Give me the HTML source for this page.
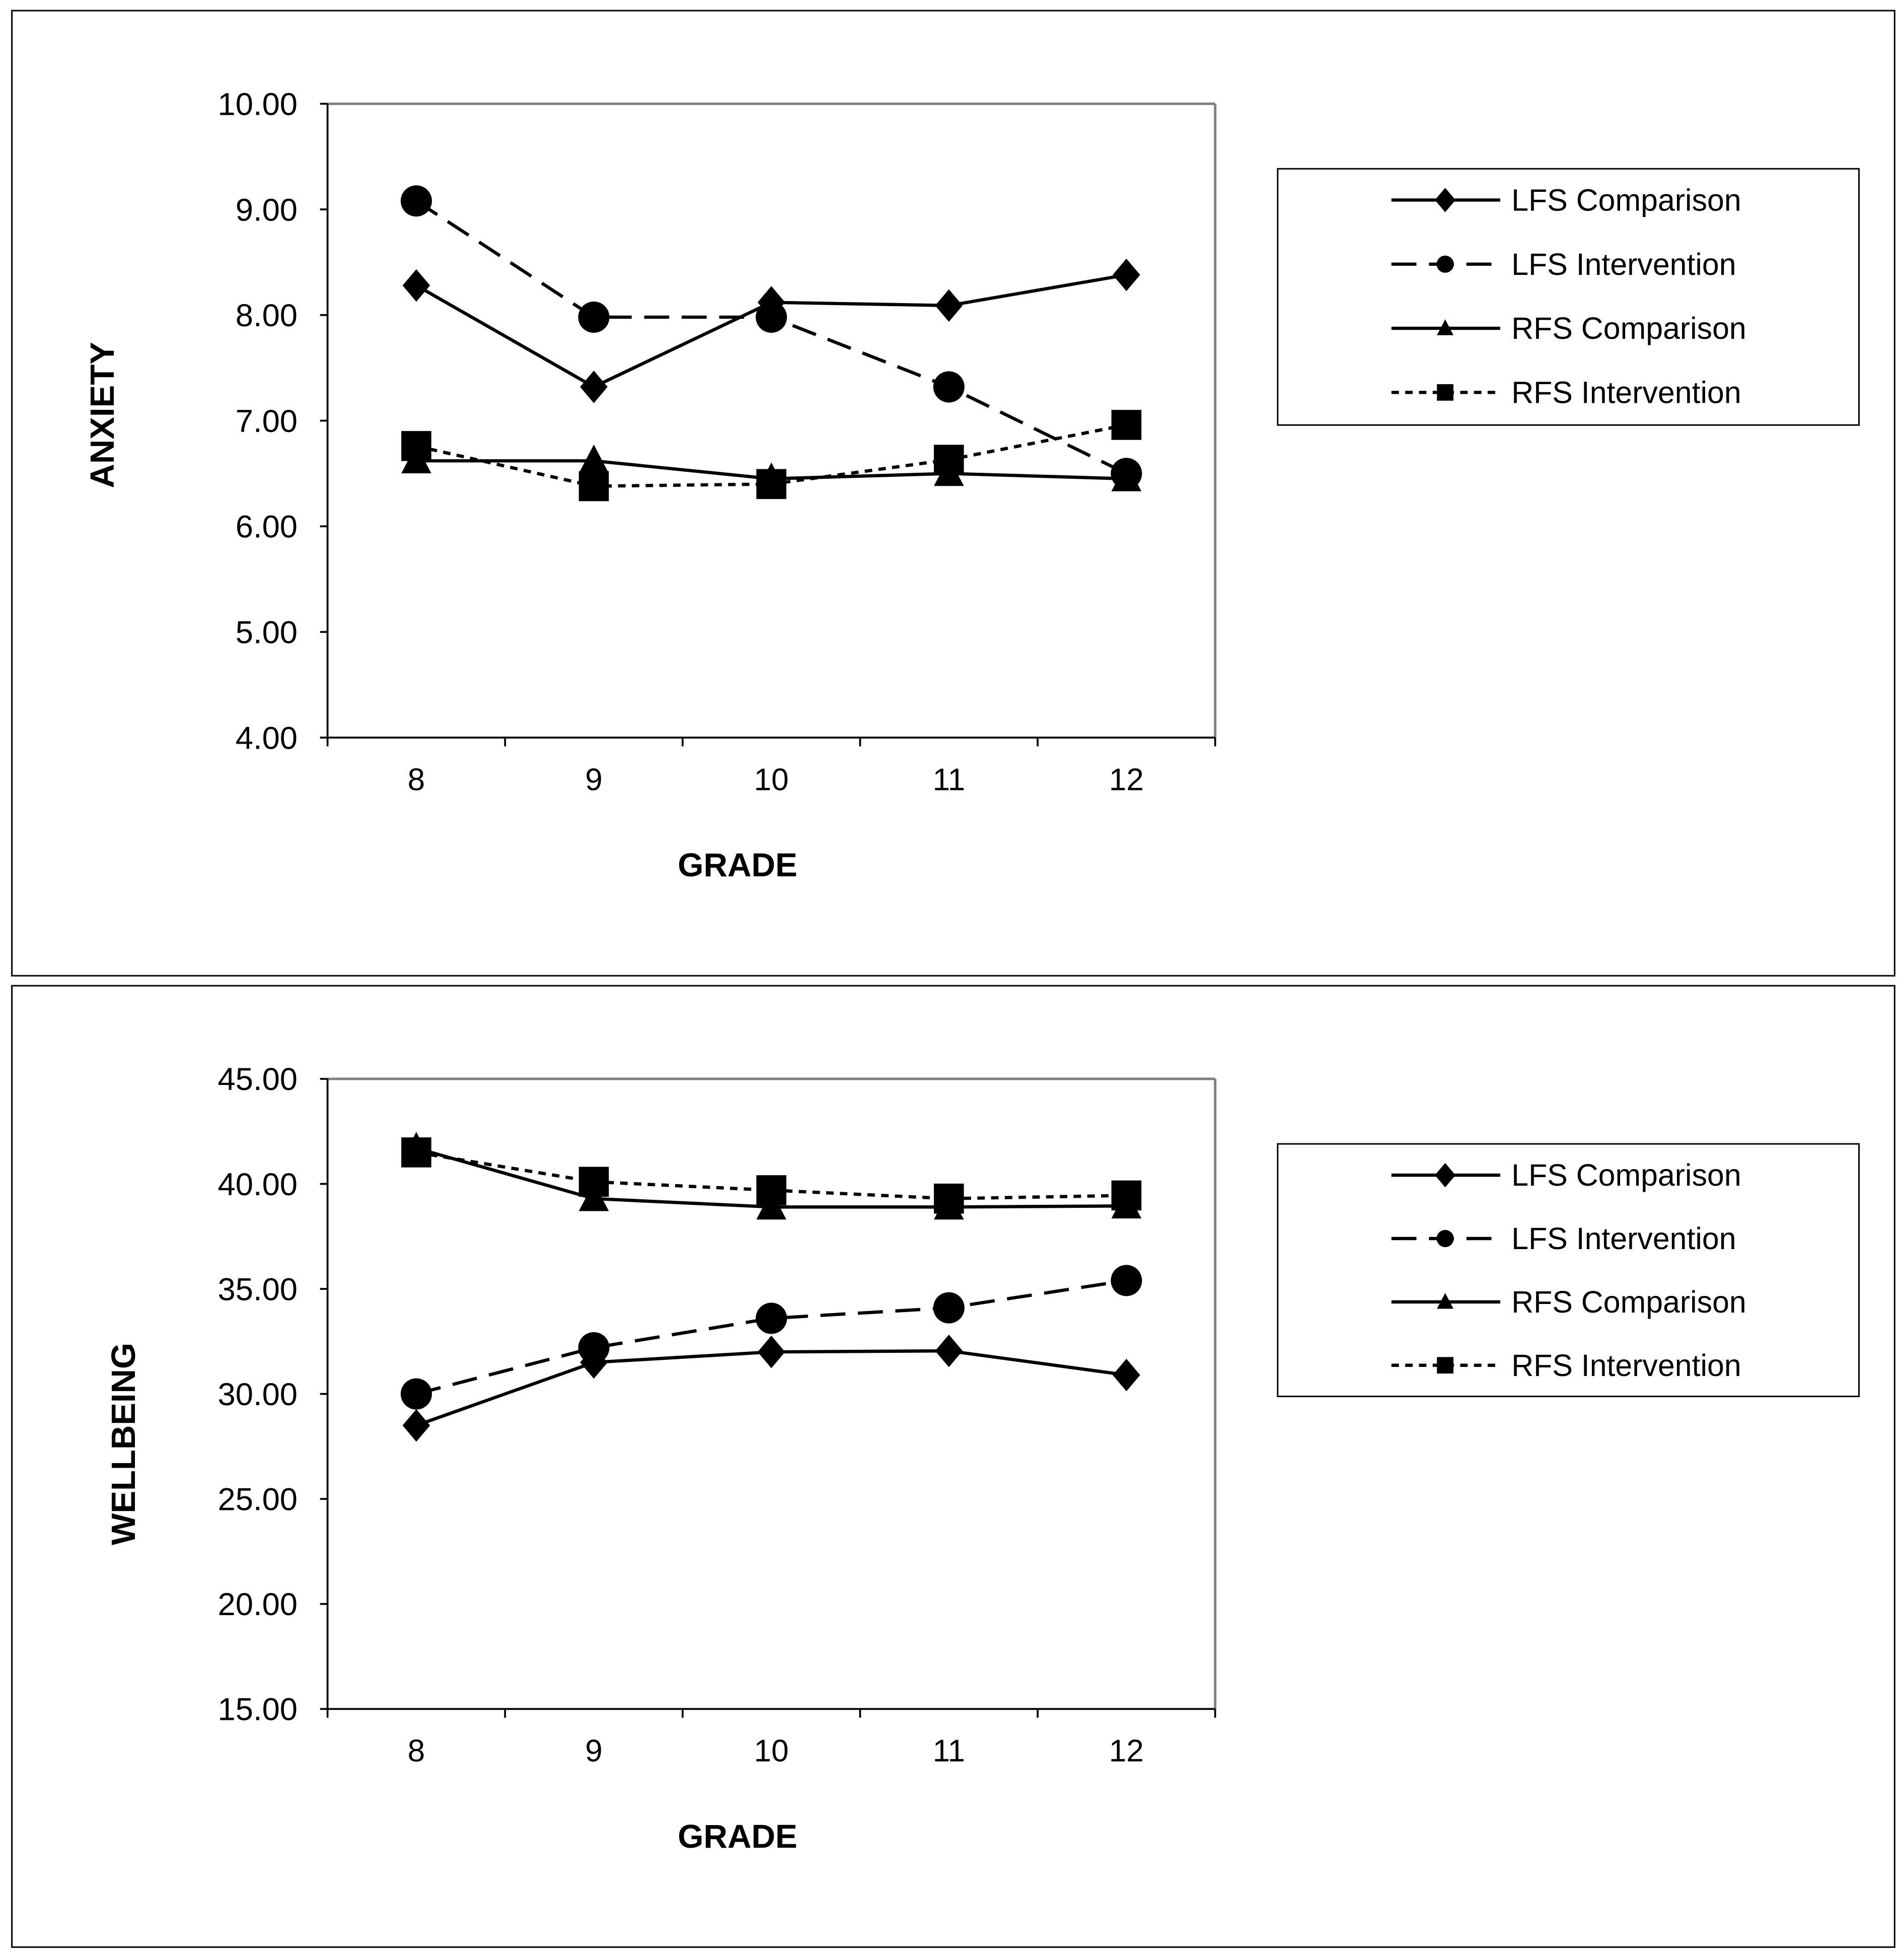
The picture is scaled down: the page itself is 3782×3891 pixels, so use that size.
<!DOCTYPE html>
<html><head><meta charset="utf-8"><style>
html,body{margin:0;padding:0;background:#fff}
svg{display:block}
text{font-family:"Liberation Sans",Arial,sans-serif;fill:#000}
</style></head><body>
<svg id="fig" width="3782" height="3891" viewBox="0 0 1523 1567" preserveAspectRatio="none" xmlns="http://www.w3.org/2000/svg"></svg>
<script>
const grades = ['8','9','10','11','12'];
const seriesNames = ['LFS Comparison','LFS Intervention','RFS Comparison','RFS Intervention'];
const anxLfsComp = [8.28, 7.32, 8.12, 8.09, 8.38];
const anxLfsInt = [9.08, 7.98, 7.98, 7.32, 6.50];
const anxRfsComp = [6.62, 6.62, 6.45, 6.50, 6.45];
const anxRfsInt = [6.76, 6.38, 6.40, 6.63, 6.96];
const anxTicks = ['4.00','5.00','6.00','7.00','8.00','9.00','10.00'];
const wbLfsComp = [28.5, 31.5, 32.0, 32.05, 30.9];
const wbLfsInt = [30.0, 32.2, 33.6, 34.1, 35.4];
const wbRfsComp = [41.7, 39.3, 38.9, 38.9, 38.95];
const wbRfsInt = [41.5, 40.1, 39.7, 39.3, 39.45];
const wbTicks = ['15.00','20.00','25.00','30.00','35.00','40.00','45.00'];

const NS='http://www.w3.org/2000/svg';
const svg=document.getElementById('fig');
function mk(tag,attrs,parent){const e=document.createElementNS(NS,tag);for(const k in attrs)e.setAttribute(k,attrs[k]);(parent||svg).appendChild(e);return e;}
const styles=[{dash:'',marker:'diamond'},{dash:'20,10',marker:'circle'},{dash:'',marker:'triangle'},{dash:'6,5',marker:'square'}];
function drawMarker(g,type,x,y){
  let m;
  if(type==='diamond')m=mk('polygon',{points:`${x},${y-13} ${x+11},${y} ${x},${y+13} ${x-11},${y}`,fill:'#000'},g);
  else if(type==='circle')m=mk('circle',{cx:x,cy:y,r:12.5,fill:'#000'},g);
  else if(type==='triangle')m=mk('polygon',{points:`${x},${y-13} ${x+12},${y+10} ${x-12},${y+10}`,fill:'#000'},g);
  else m=mk('rect',{x:x-12,y:y-12,width:24,height:24,fill:'#000'},g);
  return m;
}
function panel(p){
  const fr=mk('rect',{x:9.5,y:p.fy+0.5,width:1506,height:p.fh,fill:'#fff',stroke:'#000','stroke-width':1.2});
  
  
  const L=262,R=972,T=p.top,B=p.bot;
  const ymin=parseFloat(p.ticks[0]),ymax=parseFloat(p.ticks[p.ticks.length-1]);
  const yS=v=>B-(v-ymin)/(ymax-ymin)*(B-T);
  const xS=i=>L+(R-L)/grades.length*(i+0.5);
  const pl=mk('g',{});
  
  
  mk('line',{x1:L,y1:T,x2:R,y2:T,stroke:'#808080','stroke-width':2},pl);
  mk('line',{x1:R,y1:T,x2:R,y2:B,stroke:'#808080','stroke-width':2},pl);
  mk('line',{x1:L,y1:T,x2:L,y2:B,stroke:'#000','stroke-width':1.5},pl);
  mk('line',{x1:L,y1:B,x2:R,y2:B,stroke:'#000','stroke-width':1.5},pl);
  p.ticks.forEach(t=>{const y=yS(parseFloat(t));
    mk('line',{x1:L-6,y1:y,x2:L,y2:y,stroke:'#000','stroke-width':1.5},pl);
    const tx=mk('text',{x:238,y:y+9,'text-anchor':'end','font-size':25.5});
    tx.textContent=t;
    
    
  });
  for(let i=0;i<=grades.length;i++){const x=L+(R-L)/grades.length*i;
    mk('line',{x1:x,y1:B,x2:x,y2:B+7,stroke:'#000','stroke-width':1.5},pl);}
  grades.forEach((g,i)=>{const tx=mk('text',{x:xS(i),y:B+42,'text-anchor':'middle','font-size':25});
    tx.textContent=g;
    
    
  });
  const xt=mk('text',{x:590,y:p.xlabY,'text-anchor':'middle','font-size':26.5,'font-weight':'bold'});
  xt.textContent='GRADE';
  
  
  const yt=mk('text',{x:0,y:0,'text-anchor':'middle','font-size':27,'font-weight':'bold',transform:`translate(${p.ylabX},${p.ylabY}) rotate(-90)`});
  yt.textContent=p.ylabel;
  
  
  p.data.forEach((arr,s)=>{
    const g=mk('g',{});
    
    
    mk('polyline',{points:arr.map((v,i)=>xS(i)+','+yS(v)).join(' '),fill:'none',stroke:'#000','stroke-width':2.6,'stroke-dasharray':styles[s].dash},g);
    arr.forEach((v,i)=>{const m=drawMarker(g,styles[s].marker,xS(i),yS(v));
      
      });
  });
  const lg=mk('g',{});
  
  
  mk('rect',{x:1022,y:p.lt,width:465,height:p.lh,fill:'#fff',stroke:'#000','stroke-width':1.2},lg);
  seriesNames.forEach((n,s)=>{const y=p.lt+25+s*p.lstep;
    const e=mk('g',{},lg);
    
    
    mk('line',{x1:1113,y1:y,x2:1200,y2:y,stroke:'#000','stroke-width':2.6,'stroke-dasharray':styles[s].dash},e);
    const mm=drawMarker(e,styles[s].marker,1156,y);
    if(styles[s].marker!=='diamond'){mm.setAttribute('transform',`translate(1156,${y}) scale(0.55) translate(-1156,${-y})`);}
    else mm.setAttribute('transform',`translate(1156,${y}) scale(0.75) translate(-1156,${-y})`);
    const t=mk('text',{x:1209,y:y+8.5,'font-size':24.5},e);t.textContent=n;
  });
}
panel({id:'anxiety',fy:8,fh:772,top:83,bot:590,ticks:anxTicks,ylabel:'ANXIETY',ylabX:91,ylabY:332,xlabY:701,
  data:[anxLfsComp,anxLfsInt,anxRfsComp,anxRfsInt],lt:135,lh:205,lstep:51.3});
panel({id:'wellbeing',fy:788,fh:769,top:863,bot:1367,ticks:wbTicks,ylabel:'WELLBEING',ylabX:108,ylabY:1155,xlabY:1478,
  data:[wbLfsComp,wbLfsInt,wbRfsComp,wbRfsInt],lt:915,lh:202,lstep:50.7});
</script>
</body></html>
